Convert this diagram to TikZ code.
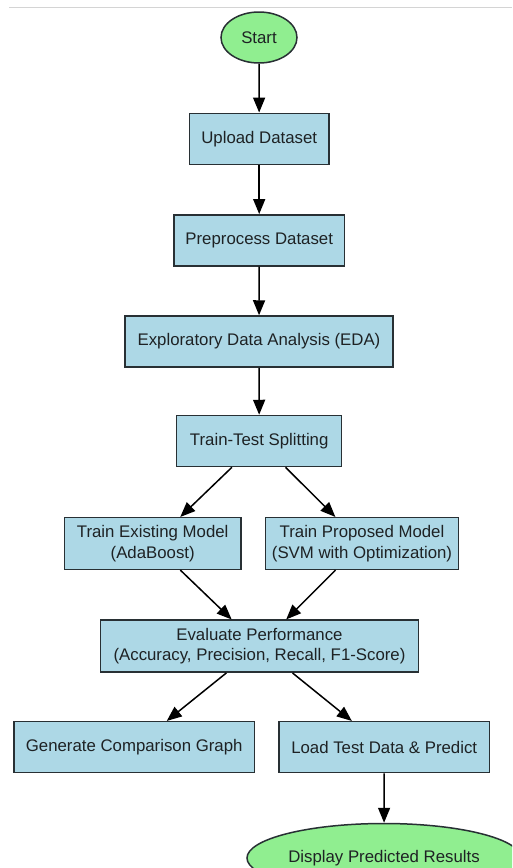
\documentclass[tikz,border=0pt]{standalone}
\usepackage{fontspec}
\setmainfont{Liberation Sans}
\usetikzlibrary{shapes.geometric,arrows.meta}
\definecolor{boxfill}{RGB}{173,216,230}
\definecolor{termfill}{RGB}{144,238,144}
\definecolor{edgecol}{RGB}{40,48,52}
\definecolor{txt}{RGB}{30,34,36}
\definecolor{rulecol}{RGB}{212,212,212}
\begin{document}
\begin{tikzpicture}[x=1pt,y=-1pt,
  stepbox/.style={rectangle, draw=edgecol, fill=boxfill, line width=1.5pt,
    inner sep=0pt, minimum height=51pt, align=center, text=txt,
    font=\fontsize{16.8}{20.8}\selectfont},
  term/.style={ellipse, draw=edgecol, fill=termfill, line width=1.5pt,
    inner sep=0pt, text=txt, font=\fontsize{16.8}{20.8}\selectfont},
  flow/.style={-{Triangle[length=15pt,width=12pt]}, line width=1.5pt, draw=black}]
\useasboundingbox (0,0) rectangle (512,868);
\clip (0,0) rectangle (512,868);
\fill[white] (0,0) rectangle (512,868);
% thin rule along the top
\draw[rulecol, line width=1pt] (9,7.3) -- (512,7.3);

% nodes
\node[term, minimum width=76pt, minimum height=51pt] (start) at (259,37.5) {Start};
\node[stepbox, minimum width=139.7pt] (upload) at (259.2,138.8) {Upload Dataset};
\node[stepbox, minimum width=170.3pt] (prep) at (259.2,240.3) {Preprocess Dataset};
\node[stepbox, minimum width=268pt] (eda) at (259,341.5) {Exploratory Data Analysis (EDA)};
\node[stepbox, minimum width=165pt] (split) at (259.2,441) {Train-Test Splitting};
\node[stepbox, minimum width=176.7pt, minimum height=51.6pt] (exist) at (152.7,543.5) {Train Existing Model\\(AdaBoost)};
\node[stepbox, minimum width=192.6pt, minimum height=51.6pt] (prop) at (362,543.5) {Train Proposed Model\\(SVM with Optimization)};
\node[stepbox, minimum width=317.6pt, minimum height=52pt] (eval) at (259.5,646.2) {Evaluate Performance\\(Accuracy, Precision, Recall, F1-Score)};
\node[stepbox, minimum width=240.3pt] (graph) at (134.2,747.2) {Generate Comparison Graph};
\node[stepbox, minimum width=210.3pt] (load) at (384.2,747.2) {Load Test Data \& Predict};
\node[term, minimum width=274pt, minimum height=69pt] (show) at (384,858) {Display Predicted Results};

% connectors
\draw[flow] (start) -- (upload);
\draw[flow] (upload) -- (prep);
\draw[flow] (prep) -- (eda);
\draw[flow] (eda) -- (split);
\draw[flow] (split) -- (exist);
\draw[flow] (split) -- (prop);
\draw[flow] (exist) -- (eval);
\draw[flow] (prop) -- (eval);
\draw[flow] (eval) -- (graph);
\draw[flow] (eval) -- (load);
\draw[flow] (load) -- (show);
\end{tikzpicture}
\end{document}
